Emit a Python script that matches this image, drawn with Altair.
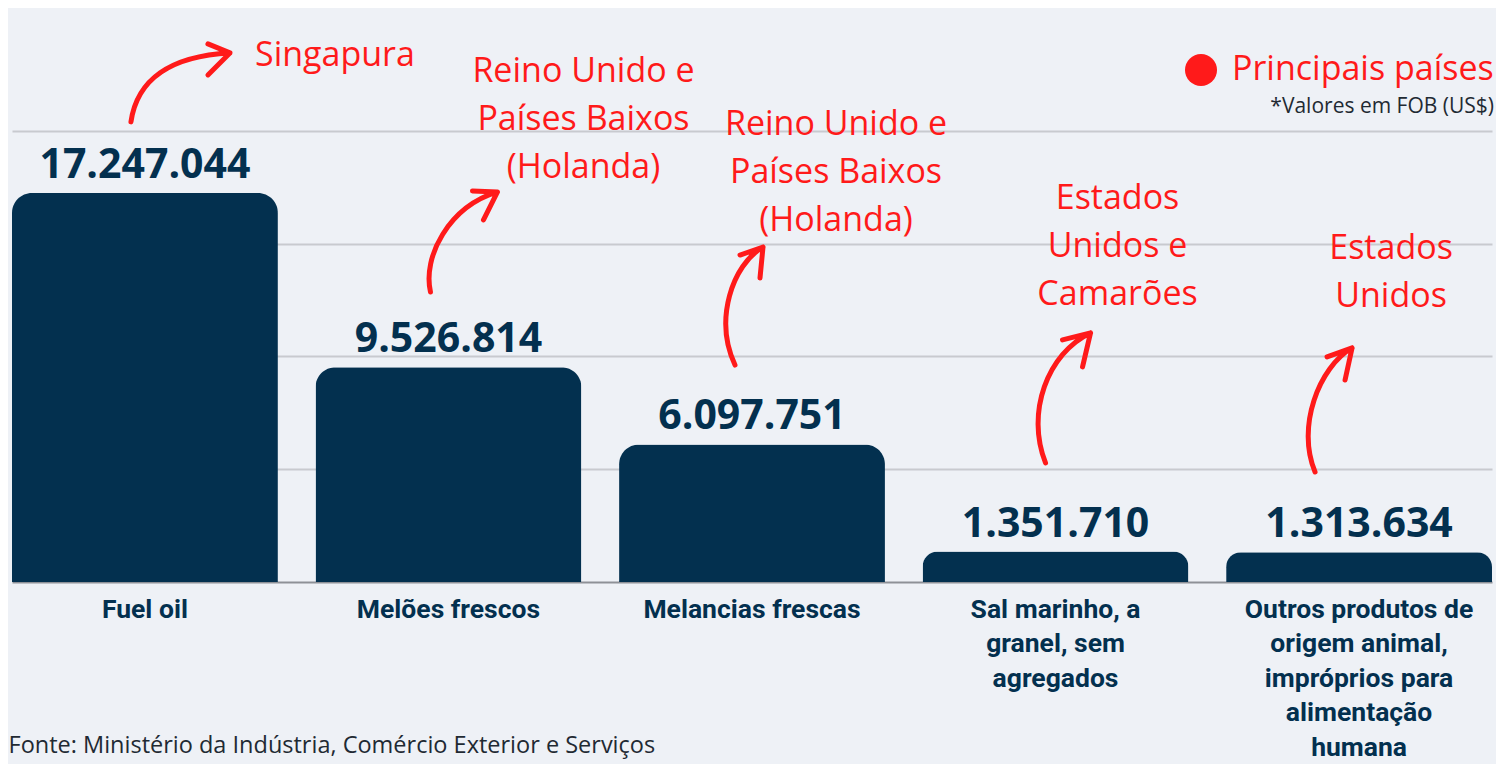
import altair as alt
import pandas as pd

# ---------------- data ----------------
categories = [
    "Fuel oil",
    "Melões frescos",
    "Melancias frescas",
    "Sal marinho, a|granel, sem|agregados",
    "Outros produtos de|origem animal,|impróprios para|alimentação|humana",
]
values = [17247044, 9526814, 6097751, 1351710, 1313634]
countries = [
    "Singapura",
    "Reino Unido e|Países Baixos|(Holanda)",
    "Reino Unido e|Países Baixos|(Holanda)",
    "Estados|Unidos e|Camarões",
    "Estados|Unidos",
]
legend_label = "Principais países"
note_text = "*Valores em FOB (US$)"
source_text = "Fonte: Ministério da Indústria, Comércio Exterior e Serviços"
grid_values = [5000000, 10000000, 15000000, 20000000]

# ---------------- layout (annotation anchors in data units, offsets in px) ----------------
annot_y = [22900000, 22170000, 19820000, 16540000, 14320000]
arrow_y = [20400000, 12860000, 9620000, 5280000, 4880000]
annot_dx = [190, 135, 84, 62, 32]
arrow_paths = [
    "M -14 0 C -8 -42 25 -66 85 -69 M 63 -78 L 85 -69 L 63 -47",
    "M -18 0 C -26 -35 0 -85 49 -100 M 24 -101 L 49 -100 L 35 -72",
    "M -17 0 C -38 -45 -20 -100 11 -118 M -12 -110 L 11 -118 L 8 -87",
    "M -10 0 C -30 -50 -8 -110 35 -130 M 7 -123 L 35 -130 L 27 -96",
    "M -44 0 C -63 -45 -40 -105 -7 -124 M -32 -115 L -7 -124 L -14 -92",
]

NAVY = "#03304F"
RED = "#FF1A1A"
BG = "#EEF1F6"
Y_MAX = 25450000

x_scale = alt.Scale(domain=categories, paddingInner=0.124, paddingOuter=0)
y_scale = alt.Scale(domain=[0, Y_MAX], nice=False, zero=True)

x_axis = alt.Axis(
    title=source_text,
    titleX=-4, titleY=170, titleAlign="left", titleBaseline="alphabetic",
    titleFont="Open Sans", titleFontSize=23.5, titleFontWeight="normal", titleColor="#1F2A33",
    titleLimit=1000,
    labelExpr="split(datum.label, '|')",
    labelFont="Roboto", labelFontSize=26.5, labelFontWeight="bold", labelColor=NAVY,
    labelLineHeight=34.5, labelPadding=14, labelAngle=0, labelLimit=500,
    ticks=False, domainColor="#8E9197", domainWidth=2, grid=False,
)
y_axis = alt.Axis(
    title=None, values=grid_values, labels=False, ticks=False, domain=False,
    grid=True, gridColor="#C8CACF", gridWidth=2,
)

X = alt.X("cat:N", scale=x_scale, axis=x_axis, sort=None)

df = pd.DataFrame({
    "cat": categories,
    "v": values,
    "label": [f"{v:,}".replace(",", ".") for v in values],
})

bars = alt.Chart(df).mark_bar(
    color=NAVY, cornerRadiusTopLeft=20, cornerRadiusTopRight=20
).encode(x=X, y=alt.Y("v:Q", scale=y_scale, axis=y_axis))

value_labels = alt.Chart(df).mark_text(
    font="Open Sans", fontSize=41, fontWeight="bold", color=NAVY,
    dy=-15, baseline="alphabetic", align="center",
).encode(x=X, y=alt.Y("v:Q", scale=y_scale, axis=y_axis), text="label:N")

legend = alt.Legend(
    orient="none", legendX=1172, legendY=45,
    title=note_text, titleOrient="bottom", titleAnchor="end", titleLimit=1000,
    titleFont="Open Sans", titleFontSize=21, titleFontWeight="normal", titleColor="#1F2A33",
    titlePadding=9,
    labelFont="Open Sans", labelFontSize=34, labelColor=RED, labelOffset=14, labelLimit=500,
    symbolType="circle", symbolSize=1024, symbolFillColor=RED, symbolStrokeColor=RED,
    symbolStrokeWidth=0, symbolOpacity=1, padding=0,
)
color_enc = alt.Color(
    "grupo:N", scale=alt.Scale(domain=[legend_label], range=[RED]), legend=legend
)

layers = [bars, value_labels]
for i in range(len(categories)):
    d_annot = pd.DataFrame({
        "cat": [categories[i]], "ay": [annot_y[i]], "txt": [countries[i]], "grupo": [legend_label],
    })
    layers.append(
        alt.Chart(d_annot).mark_text(
            font="Open Sans", fontSize=34, fontWeight=500, lineBreak="|", lineHeight=48,
            align="center", baseline="alphabetic", dx=annot_dx[i],
        ).encode(x=X, y=alt.Y("ay:Q", scale=y_scale, axis=y_axis), text="txt:N", color=color_enc)
    )
    d_arrow = pd.DataFrame({"cat": [categories[i]], "by": [arrow_y[i]]})
    layers.append(
        alt.Chart(d_arrow).mark_point(
            shape=arrow_paths[i], size=4, filled=False, color=RED, stroke=RED,
            strokeWidth=5, strokeCap="round", strokeJoin="round", opacity=1,
        ).encode(x=X, y=alt.Y("by:Q", scale=y_scale, axis=y_axis))
    )

chart = alt.layer(*layers).properties(
    width=1480, height=574,
    autosize=alt.AutoSizeParams(type="none"),
    padding={"left": 4, "top": 0, "right": 4, "bottom": 182},
    background=BG,
).configure_view(stroke=None)

chart.save("out.html", embed_options={"renderer": "svg", "actions": False})
